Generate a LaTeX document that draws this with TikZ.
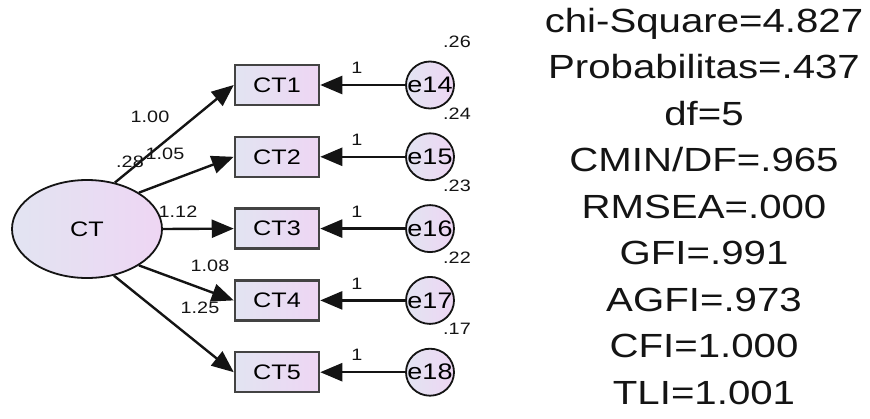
\documentclass[tikz,border=0pt]{standalone}
\usepackage{fontspec}
\newfontfamily\amosfont[FakeStretch=1.2]{Liberation Sans}
\usetikzlibrary{shapes.geometric,arrows.meta}

\definecolor{fillleft}{RGB}{226,228,242}
\definecolor{fillright}{RGB}{238,214,243}
\definecolor{ink}{RGB}{20,20,20}

\begin{document}
\begin{tikzpicture}[x=1pt, y=-1pt,
        lavender/.style={shading=axis, left color=fillleft, right color=fillright},
        latent/.style={ellipse, draw=ink, line width=1.8pt, lavender, minimum width=150pt, minimum height=98pt, inner sep=0pt, font=\amosfont\fontsize{21}{24}\selectfont},
        observed/.style={rectangle, draw=ink!80, line width=2.5pt, lavender, minimum width=84pt, minimum height=40pt, inner sep=0pt, font=\amosfont\fontsize{21}{24}\selectfont},
        error/.style={ellipse, draw=ink, line width=1.8pt, lavender, minimum width=48pt, minimum height=47pt, inner sep=0pt, font=\amosfont\fontsize{22.5}{24}\selectfont},
        arr/.style={-{Triangle[length=22pt,width=18pt]}, line width=2.4pt, draw=ink},
        lbl/.style={font=\amosfont\fontsize{16.5}{18}\selectfont, text=ink, inner sep=0pt},
        stat/.style={font=\amosfont\fontsize{33.5}{40}\selectfont, text=ink, anchor=base, inner sep=0pt}]
    \useasboundingbox (0,0) rectangle (870,418);

    \node[latent] (ct) at (87,229) {CT};

    % indicators with their error terms
    \foreach \i/\e/\v/\a in {1/14/.26/59, 2/15/.24/35, 3/16/.23/0, 4/17/.22/-35, 5/18/.17/-60} {
        \node[observed] (ct\i) at (277, 13.2+71.8*\i) {CT\i};
        \node[error] (e\e) at (430, 13.2+71.8*\i) {\makebox[0pt]{e\e}};
        \draw[arr] (ct.\a) -- (ct\i.west);
        \draw[arr] (e\e) -- (ct\i);
        \node[lbl] (one\i) at (357, 13.2+71.8*\i-17) {1};
        \node[lbl] (var\e) at (457, 13.2+71.8*\i-43) {\v};
    }

    % loadings
    \node[lbl] (w1) at (150,117) {1.00};
    \node[lbl] (varct) at (130,162) {.28};
    \node[lbl] (w2) at (165,154) {1.05};
    \node[lbl] (w3) at (178,212) {1.12};
    \node[lbl] (w4) at (210,266) {1.08};
    \node[lbl] (w5) at (200,308) {1.25};

    % fit indices
    \foreach \txt [count=\k from 0] in {chi-Square=4.827, Probabilitas=.437, df=5, CMIN/DF=.965, RMSEA=.000, GFI=.991, AGFI=.973, CFI=1.000, TLI=1.001}
        \node[stat] (fit\k) at (704, 32+46.5*\k) {\txt};
\end{tikzpicture}
\end{document}
